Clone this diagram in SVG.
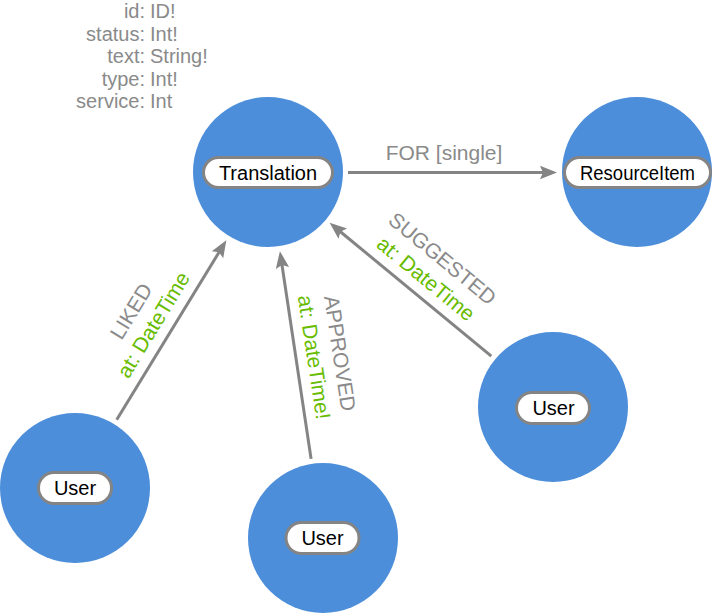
<svg xmlns="http://www.w3.org/2000/svg" width="713" height="614" viewBox="0 0 713 614">
<style>
.node{fill:#4C8EDA}
.pill{fill:#ffffff;stroke:#848484;stroke-width:3}
.cap{font-family:"Liberation Sans",Arial,sans-serif;font-size:20px;fill:#000000;text-anchor:middle}
.prop{font-family:"Liberation Sans",Arial,sans-serif;font-size:20px;fill:#8a8a8a}
.k{text-anchor:end}
.edge{stroke:#848484;stroke-width:3;fill:none}
.type{font-family:"Liberation Sans",Arial,sans-serif;font-size:21px;fill:#8a8a8a;text-anchor:middle}
.eprop{font-family:"Liberation Sans",Arial,sans-serif;font-size:21px;fill:#68BC00;text-anchor:middle}
</style>
<defs>
<marker id="arrow" markerUnits="userSpaceOnUse" markerWidth="20" markerHeight="16" viewBox="0 -8 18 16" refX="5" refY="0" orient="auto">
<path d="M0,-6.7 L17,0 L0,6.7 L3,0 Z" fill="#848484"/>
</marker>
</defs>
<g id="props">
<text class="prop k" x="145" y="18.3">id:</text><text class="prop" x="150" y="18.3">ID!</text>
<text class="prop k" x="145" y="40.8">status:</text><text class="prop" x="150" y="40.8">Int!</text>
<text class="prop k" x="145" y="63.3">text:</text><text class="prop" x="150" y="63.3">String!</text>
<text class="prop k" x="145" y="85.8">type:</text><text class="prop" x="150" y="85.8">Int!</text>
<text class="prop k" x="145" y="108.3">service:</text><text class="prop" x="150" y="108.3">Int</text>
</g>
<g id="connectors">
<g id="e-for">
<line class="edge" x1="348" y1="172.5" x2="545" y2="172.5" marker-end="url(#arrow)"/>
<text class="type" x="444" y="160">FOR [single]</text>
</g>
<g id="e-liked">
<line class="edge" x1="116.7" y1="419.7" x2="220.1" y2="250.5" marker-end="url(#arrow)"/>
<g transform="translate(168.9,334.3) rotate(-58.58)">
<text class="type" x="0" y="-37">LIKED</text>
<text class="eprop" x="0" y="-11">at: DateTime</text>
</g>
</g>
<g id="e-approved">
<line class="edge" x1="311.1" y1="458.9" x2="281.7" y2="263" marker-end="url(#arrow)"/>
<g transform="translate(296.2,359.9) rotate(81.45)">
<text class="type" x="0" y="-37">APPROVED</text>
<text class="eprop" x="0" y="-11">at: DateTime!</text>
</g>
</g>
<g id="e-suggested">
<line class="edge" x1="491.3" y1="356.1" x2="338.9" y2="230.5" marker-end="url(#arrow)"/>
<g transform="translate(414.4,292.7) rotate(39.5)">
<text class="type" x="0" y="-37">SUGGESTED</text>
<text class="eprop" x="0" y="-11">at: DateTime</text>
</g>
</g>
</g>
<g id="n-translation">
<circle class="node" cx="268" cy="172" r="75"/>
<rect class="pill" x="203.5" y="157.5" width="129" height="30" rx="15"/>
<text class="cap" x="268" y="179.5">Translation</text>
</g>
<g id="n-resourceitem">
<circle class="node" cx="637" cy="172" r="75"/>
<rect class="pill" x="564.5" y="157.5" width="146" height="30" rx="15"/>
<text class="cap" x="637.5" y="179.5" textLength="115" lengthAdjust="spacingAndGlyphs">ResourceItem</text>
</g>
<g id="n-user1">
<circle class="node" cx="75" cy="488" r="75"/>
<rect class="pill" x="38.5" y="472.5" width="73" height="31" rx="15.5"/>
<text class="cap" x="75" y="495">User</text>
</g>
<g id="n-user2">
<circle class="node" cx="323" cy="538" r="75"/>
<rect class="pill" x="286" y="522.5" width="73" height="31" rx="15.5"/>
<text class="cap" x="322.5" y="545">User</text>
</g>
<g id="n-user3">
<circle class="node" cx="553" cy="407" r="75"/>
<rect class="pill" x="516.5" y="392.5" width="73" height="31" rx="15.5"/>
<text class="cap" x="553.5" y="415">User</text>
</g>
</svg>
